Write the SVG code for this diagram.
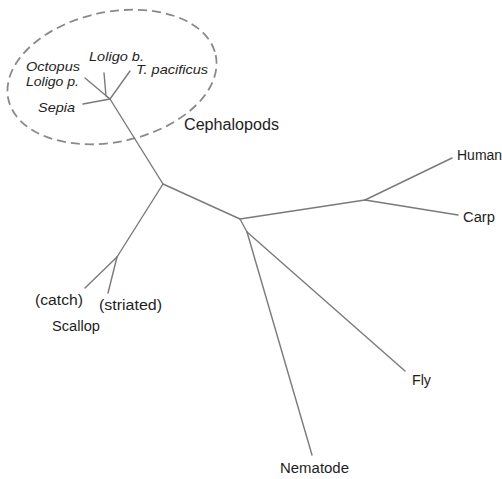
<svg xmlns="http://www.w3.org/2000/svg" width="502" height="479" viewBox="0 0 502 479">
  <style>
    .edge { fill: none; stroke: #7a7a7a; stroke-width: 1.4; stroke-linecap: round; stroke-linejoin: round; }
    .group { fill: none; stroke: #8a8a8a; stroke-width: 1.8; stroke-dasharray: 9 5; }
    .lbl { font-family: "Liberation Sans", Arial, sans-serif; font-size: 14px; fill: #1e1e1e; }
    .sp { font-style: italic; font-size: 13.5px; }
    .tight { font-size: 12.5px; }
  </style>
  <rect width="502" height="479" fill="#ffffff"/>
  <g id="cephalopod-group">
    <ellipse class="group" cx="112" cy="77" rx="106" ry="65" transform="rotate(-12 112 77)"/>
  </g>
  <g id="connectors">
    <path class="edge" d="M85,78 L110,99"/>
    <path class="edge" d="M104,73 L106,96 L110,99"/>
    <path class="edge" d="M130,71 L110,99"/>
    <path class="edge" d="M83,104 L110,99"/>
    <path class="edge" d="M110,99 L163,184"/>
    <path class="edge" d="M163,184 L240,219"/>
    <path class="edge" d="M163,184 L117,257"/>
    <path class="edge" d="M117,257 L85,288"/>
    <path class="edge" d="M117,257 L108,293"/>
    <path class="edge" d="M240,219 L365,200"/>
    <path class="edge" d="M365,200 L452,158"/>
    <path class="edge" d="M365,200 L458,215"/>
    <path class="edge" d="M240,219 L247,232"/>
    <path class="edge" d="M247,232 L312,455"/>
    <path class="edge" d="M247,232 L405,371"/>
  </g>
  <g id="node-octopus"><text class="lbl sp tight" x="26" y="71" textLength="54" lengthAdjust="spacingAndGlyphs">Octopus</text></g>
  <g id="node-loligo-p"><text class="lbl sp tight" x="26" y="86" textLength="53" lengthAdjust="spacingAndGlyphs">Loligo p.</text></g>
  <g id="node-loligo-b"><text class="lbl sp" x="89" y="61" textLength="55" lengthAdjust="spacingAndGlyphs">Loligo b.</text></g>
  <g id="node-t-pacificus"><text class="lbl sp" x="136" y="74" textLength="72" lengthAdjust="spacingAndGlyphs">T. pacificus</text></g>
  <g id="node-sepia"><text class="lbl sp" x="38" y="112" textLength="37" lengthAdjust="spacingAndGlyphs">Sepia</text></g>
  <g id="node-cephalopods"><text class="lbl" x="184" y="130" style="font-size:16px" textLength="95" lengthAdjust="spacingAndGlyphs">Cephalopods</text></g>
  <g id="node-human"><text class="lbl" x="457" y="160">Human</text></g>
  <g id="node-carp"><text class="lbl" x="463" y="222" textLength="32" lengthAdjust="spacingAndGlyphs">Carp</text></g>
  <g id="node-fly"><text class="lbl" x="412" y="385" textLength="19" lengthAdjust="spacingAndGlyphs">Fly</text></g>
  <g id="node-nematode"><text class="lbl" x="280" y="473" textLength="69" lengthAdjust="spacingAndGlyphs">Nematode</text></g>
  <g id="node-catch"><text class="lbl" x="35" y="305" textLength="48" lengthAdjust="spacingAndGlyphs">(catch)</text></g>
  <g id="node-striated"><text class="lbl" x="99" y="310" textLength="63" lengthAdjust="spacingAndGlyphs">(striated)</text></g>
  <g id="node-scallop"><text class="lbl" x="52" y="331" textLength="48" lengthAdjust="spacingAndGlyphs">Scallop</text></g>
</svg>
